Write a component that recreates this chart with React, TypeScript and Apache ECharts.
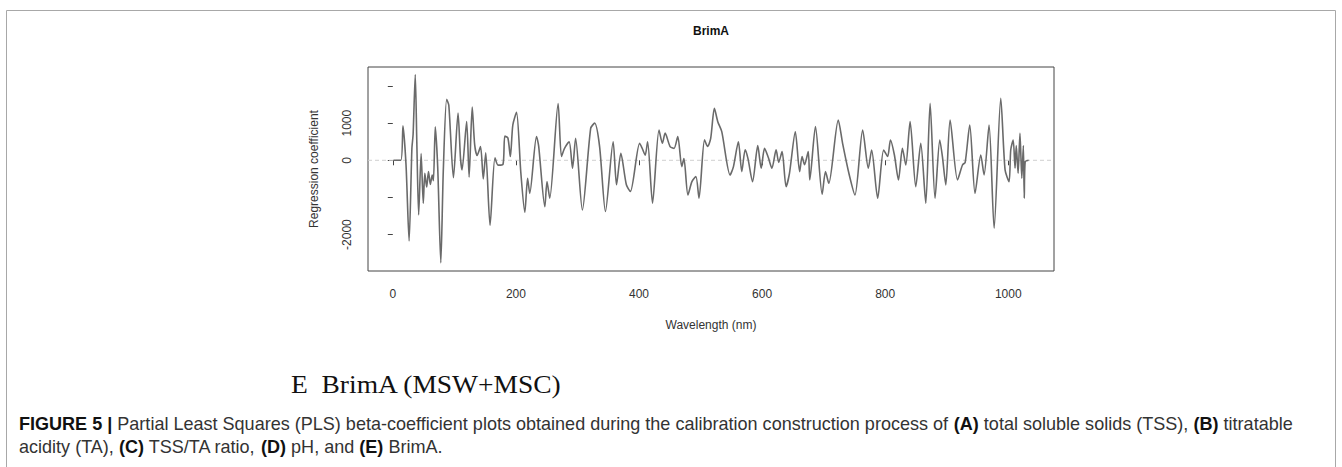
import React, { useEffect, useRef } from "react";
import * as echarts from "echarts";

// Wavelength (nm) and PLS regression coefficient
const wavelength = [
  1, 13, 16.5, 21.5, 26.5, 31, 33, 36.5, 39, 42, 46, 49.5, 52, 55, 58, 61, 64, 66, 69, 73, 78, 82,
  87.5, 91, 98.5, 106, 110, 112.5, 120, 124, 129, 133, 137, 142.5, 147, 151, 158, 166, 171, 179,
  182, 187, 191, 195, 201, 208, 214.5, 219, 222.5, 233.5, 237, 247, 250.5, 255, 268.6, 274, 279,
  286.5, 292, 297, 308, 321.5, 328, 336, 345.5, 358, 363.5, 370.5, 379.5, 386, 401, 405, 410, 414,
  422, 432.5, 438, 442.5, 450.5, 457, 463, 469.5, 473, 479.5, 486, 492.5, 497.5, 506.5, 511.5,
  516.5, 522.5, 528, 534.5, 548, 553.5, 561.5, 567, 572.5, 577, 584.5, 593, 598.5, 604, 610, 616,
  622.8, 627, 632.5, 639, 644.5, 654, 661, 665, 669, 675, 677.5, 686.7, 697.6, 703, 708.4, 723.8,
  730.8, 741.7, 750.9, 763.4, 772.6, 778, 787.8, 797.5, 804, 808.6, 815, 821.6, 828, 833.5, 840.5,
  849.7, 857.8, 866, 873, 881, 888.7, 893, 898.5, 905.5, 917.5, 925.6, 930, 937.4, 946, 955.3,
  960.7, 968.8, 977, 987.8, 994.8, 1001.3, 1004, 1008, 1011, 1013, 1016, 1019, 1022, 1024.5, 1026,
  1027.5, 1033,
];
const coefficient = [
  0, 0, 930, -130, -2170, 310, 700, 2310, 500, -1470, 180, -1160, -350, -720, -300, -650, -400,
  -550, 900, -200, -2760, -300, 1640, 1480, -470, 1270, 50, -260, 1045, -450, 1430, 420, 130, 370,
  -500, 200, -1750, 70, -130, -110, 650, 600, 100, 950, 1290, -330, -1400, -485, -890, 640, 380,
  -1250, -575, -1020, 1530, 100, 320, 500, -215, 590, -1340, 860, 1000, 370, -1380, 500, -660, 190,
  -660, -840, 460, 330, 140, 500, -1157, 815, 460, 730, 370, 320, 640, -170, 50, -930, -575, -440,
  -1020, 550, 370, 590, 1400, 1040, 770, -395, -170, 500, -305, 280, 50, -575, 395, -215, 320, 80,
  -215, 280, -55, 233, -710, -350, 770, -305, 100, -120, 233, -530, 906, -915, -305, -620, 1086,
  457, -395, -933, 816, -215, 278, -1023, 278, 100, 548, 143, -530, 323, -126, 1040, -710, 457,
  -1157, 1534, -1023, 548, 100, -664, 1086, -530, -126, -55, 950, -890, 143, -395, 950, -1830,
  1669, -260, -575, 278, 548, -215, 400, -350, 727, -485, 400, -1023, -40, 0,
];
const xTicks = [0, 200, 400, 600, 800, 1000];
const yTicks = [-2000, -1000, 0, 1000, 2000];
const yTickLabels = [-2000, 0, 1000];

const X_MIN = -40.3;
const X_MAX = 1074.3;
const Y_MIN = -2980;
const Y_MAX = 2511;

const sans = '"Liberation Sans", Arial, Helvetica, sans-serif';

export default function App() {
  const ref = useRef<HTMLDivElement>(null);
  useEffect(() => {
    document.body.style.margin = "0";
    const chart = echarts.init(ref.current!, null, { renderer: "svg" });
    const axisText = { color: "#333", fontSize: 12, fontFamily: sans };
    const captionRich = {
      b: { fontWeight: "bold", fill: "#111", fontSize: 19, fontFamily: sans },
    };
    chart.setOption({
      animation: false,
      backgroundColor: "#fff",
      grid: {
        left: 368,
        top: 67,
        width: 686,
        height: 204,
        show: true,
        borderColor: "#444",
        borderWidth: 1,
        backgroundColor: "transparent",
      },
      xAxis: {
        type: "value",
        min: X_MIN,
        max: X_MAX,
        splitLine: { show: false },
        axisLine: { show: false },
        axisTick: { show: true, customValues: xTicks, length: 5, lineStyle: { color: "#444" } },
        axisLabel: {
          customValues: xTicks,
          margin: 17,
          formatter: (v: number) => String(v),
          ...axisText,
        },
        name: "Wavelength (nm)",
        nameLocation: "middle",
        nameGap: 48,
        nameTextStyle: { ...axisText },
      },
      yAxis: {
        type: "value",
        min: Y_MIN,
        max: Y_MAX,
        splitLine: { show: false },
        axisLine: { show: false },
        axisTick: { show: true, customValues: yTicks, length: 5, lineStyle: { color: "#444" } },
        axisLabel: {
          customValues: yTickLabels,
          rotate: 90,
          margin: 15,
          formatter: (v: number) => String(v),
          ...axisText,
        },
        name: "Regression coefficient",
        nameLocation: "middle",
        nameGap: 48,
        nameTextStyle: { ...axisText },
      },
      series: [
        {
          type: "line",
          z: 1,
          data: [
            [X_MIN, 0],
            [X_MAX, 0],
          ],
          symbol: "none",
          silent: true,
          lineStyle: { color: "#cfcfcf", width: 1, type: [4, 3] },
        },
        {
          type: "line",
          z: 2,
          data: wavelength.map((w, i) => [w, coefficient[i]]),
          symbol: "none",
          smooth: 0.25,
          lineStyle: { color: "#6a6a6a", width: 1.6 },
        },
      ],
      graphic: [
        {
          type: "polyline",
          silent: true,
          shape: { points: [[6.5, 467], [6.5, 10.5], [1335.5, 10.5], [1335.5, 467]] },
          style: { fill: "none", stroke: "#a8a8a8", lineWidth: 1 },
        },
        {
          type: "text",
          x: 711,
          y: 31,
          style: {
            text: "BrimA",
            fill: "#111",
            font: `bold 12px ${sans}`,
            textAlign: "center",
            textVerticalAlign: "middle",
          },
        },
        {
          type: "text",
          x: 291,
          y: 385,
          scaleX: 1.1,
          style: {
            text: "E  BrimA (MSW+MSC)",
            fill: "#111",
            font: '25px "Liberation Serif", "Times New Roman", serif',
            textVerticalAlign: "middle",
          },
        },
        {
          type: "text",
          x: 19,
          y: 423,
          scaleX: 0.95,
          style: {
            text:
              "{b|FIGURE 5 |} Partial Least Squares (PLS) beta-coefficient plots obtained during the calibration construction process of {b|(A)} total soluble solids (TSS), {b|(B)} titratable",
            fill: "#333",
            font: `19px ${sans}`,
            textVerticalAlign: "middle",
            rich: captionRich,
          },
        },
        {
          type: "text",
          x: 19,
          y: 446,
          scaleX: 0.95,
          style: {
            text: "acidity (TA), {b|(C)} TSS/TA ratio, {b|(D)} pH, and {b|(E)} BrimA.",
            fill: "#333",
            font: `19px ${sans}`,
            textVerticalAlign: "middle",
            rich: captionRich,
          },
        },
      ],
    });
    return () => chart.dispose();
  }, []);
  return <div ref={ref} style={{ width: 1342, height: 467 }} />;
}
